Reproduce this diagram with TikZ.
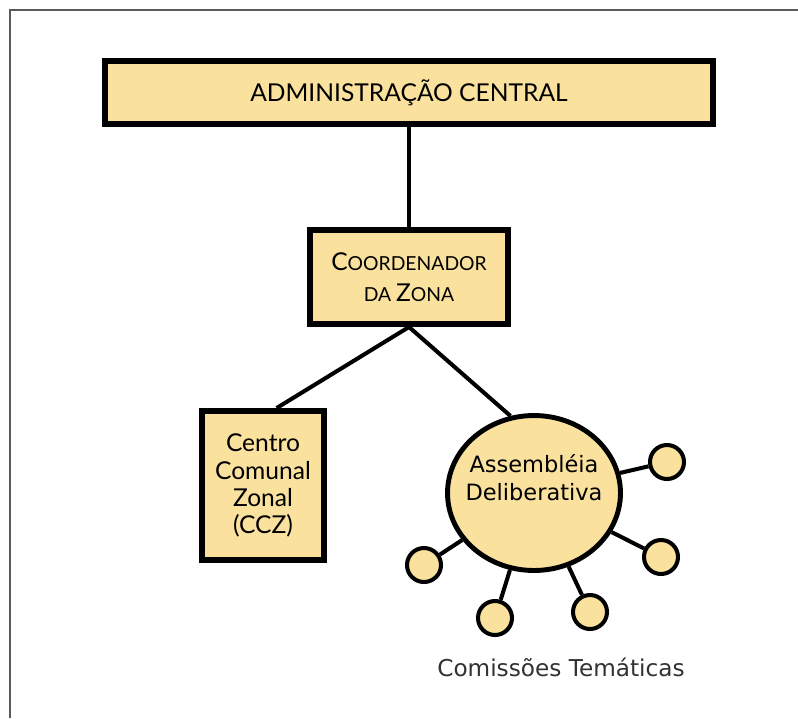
\documentclass[tikz,border=0pt]{standalone}
\usepackage{fontspec}
\setmainfont{Lato}
\newfontfamily\lucidafont{DejaVu Sans}
\usepackage{xcolor}
\usepackage{tikz}
\usetikzlibrary{positioning, shapes.geometric}
\definecolor{tanfill}{RGB}{250,226,158}
\definecolor{framegray}{RGB}{90,90,90}
\definecolor{labelgray}{RGB}{50,50,50}
\tikzset{
  tanbox/.style     = {draw, line width=3.4pt, fill=tanfill, align=center, inner sep=0pt},
  assembly/.style   = {ellipse, draw, line width=2.8pt, fill=tanfill, align=center, inner sep=-8pt},
  commission/.style = {circle, draw, line width=2.3pt, fill=tanfill, minimum size=0.68cm, inner sep=0pt},
  link/.style       = {line width=2.3pt}
}
% large first letter, small rest (small caps look)
\newcommand{\capfirst}[2]{{\fontsize{14}{16}\selectfont #1}{\fontsize{11}{16}\selectfont #2}}

\begin{document}
\begin{tikzpicture}[x=0.02cm, y=-0.02cm]
    \useasboundingbox (0,0) rectangle (798,718);

    % --- frame ---------------------------------------------------------------
    \draw[framegray, line width=1.1pt] (10,718) -- (10,10) -- (798,10);

    % --- boxes ---------------------------------------------------------------
    \node[tanbox, minimum width=12.18cm, minimum height=1.26cm] (admin) at (409, 92.5)
      {\fontsize{14}{16}\selectfont ADMINISTRAÇÃO CENTRAL};

    \node[tanbox, minimum width=3.96cm, minimum height=1.88cm] (coord) at (409, 277)
      {\capfirst{C}{OORDENADOR}\\[6pt]\capfirst{}{DA }\capfirst{Z}{ONA}};

    \node[tanbox, minimum width=2.44cm, minimum height=2.98cm,
          font=\fontsize{14}{15.5}\selectfont] (ccz) at (263, 485.5)
      {Centro\\Comunal\\Zonal\\(CCZ)};

    % --- assembly and its commissions ------------------------------------------
    \node[assembly, minimum width=3.46cm, minimum height=3.1cm,
          font=\lucidafont\fontsize{12.8}{16}\selectfont] (assem) at (534, 493)
      {Assembléia\\Deliberativa\\[2pt]};

    \node[commission] (com1) at (667, 462) {};
    \node[commission] (com2) at (661, 557) {};
    \node[commission] (com3) at (590, 612) {};
    \node[commission] (com4) at (495, 618) {};
    \node[commission] (com5) at (424, 565) {};

    \node[font=\lucidafont\fontsize{13.2}{15}\selectfont, text=labelgray] (comlabel) at (561, 667)
      {Comissões Temáticas};

    % --- connectors ----------------------------------------------------------
    \draw[link] (admin.south) -- (coord.north);
    \draw[link] (coord.south) -- (ccz.80);
    \draw[link] (coord.south) -- (assem.107);
    \foreach \c in {com1, com2, com3, com4, com5}
      \draw[link] (assem) -- (\c);

  \end{tikzpicture}
\end{document}
